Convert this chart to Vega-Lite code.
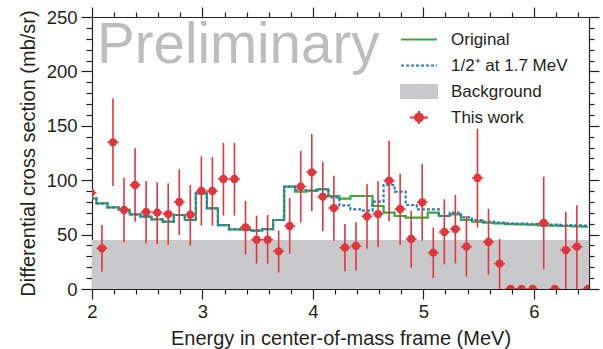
{
  "$schema": "https://vega.github.io/schema/vega-lite/v6.json",
  "width": 497,
  "height": 272,
  "autosize": {"type": "none"},
  "padding": {"left": 92, "top": 17, "right": 14, "bottom": 60},
  "background": "white",
  "config": {
    "view": {"stroke": null},
    "font": "Liberation Sans",
    "axis": {
      "grid": false,
      "domainColor": "#231f20",
      "domainWidth": 1.2,
      "tickColor": "#231f20",
      "tickWidth": 1.2,
      "labelColor": "#231f20",
      "titleColor": "#231f20",
      "labelFont": "Liberation Sans",
      "titleFont": "Liberation Sans",
      "labelFontSize": 18.5,
      "titleFontSize": 20,
      "titleFontWeight": "normal",
      "labelFlush": false,
      "labelOverlap": false,
      "zindex": 1
    }
  },
  "datasets": {
    "pts": [
      {"x": 1.99, "y": 88.5, "lo": 88.5, "hi": 88.5, "orig": 83.3, "alt": 83.3},
      {"x": 2.09, "y": 37.4, "lo": 15.9, "hi": 58.8, "orig": 78.7, "alt": 78.7},
      {"x": 2.19, "y": 134.8, "lo": 94.7, "hi": 175.2, "orig": 75.0, "alt": 75.0},
      {"x": 2.29, "y": 72.6, "lo": 42.9, "hi": 102.3, "orig": 73.0, "alt": 73.0},
      {"x": 2.39, "y": 95.6, "lo": 61.9, "hi": 129.3, "orig": 68.6, "alt": 68.6},
      {"x": 2.49, "y": 70.8, "lo": 42.0, "hi": 99.3, "orig": 66.5, "alt": 66.5},
      {"x": 2.59, "y": 70.2, "lo": 41.4, "hi": 98.0, "orig": 64.0, "alt": 64.0},
      {"x": 2.69, "y": 68.9, "lo": 40.7, "hi": 97.1, "orig": 61.9, "alt": 61.9},
      {"x": 2.79, "y": 80.0, "lo": 49.6, "hi": 110.0, "orig": 68.0, "alt": 68.0},
      {"x": 2.89, "y": 68.3, "lo": 40.1, "hi": 95.6, "orig": 63.4, "alt": 63.4},
      {"x": 2.99, "y": 90.1, "lo": 58.2, "hi": 121.9, "orig": 87.9, "alt": 87.9},
      {"x": 3.09, "y": 90.1, "lo": 58.2, "hi": 121.3, "orig": 74.1, "alt": 74.1},
      {"x": 3.19, "y": 101.1, "lo": 67.4, "hi": 134.2, "orig": 58.8, "alt": 58.8},
      {"x": 3.29, "y": 101.1, "lo": 67.4, "hi": 134.2, "orig": 54.8, "alt": 54.8},
      {"x": 3.39, "y": 56.7, "lo": 31.6, "hi": 81.2, "orig": 54.5, "alt": 54.5},
      {"x": 3.49, "y": 45.3, "lo": 23.3, "hi": 67.4, "orig": 53.6, "alt": 53.6},
      {"x": 3.59, "y": 45.3, "lo": 23.3, "hi": 68.0, "orig": 55.1, "alt": 55.1},
      {"x": 3.69, "y": 34.6, "lo": 15.0, "hi": 53.9, "orig": 63.4, "alt": 63.4},
      {"x": 3.79, "y": 57.9, "lo": 32.5, "hi": 83.6, "orig": 94.1, "alt": 94.1},
      {"x": 3.89, "y": 94.1, "lo": 61.0, "hi": 126.8, "orig": 89.5, "alt": 91.0},
      {"x": 3.99, "y": 107.2, "lo": 71.7, "hi": 142.5, "orig": 90.1, "alt": 91.0},
      {"x": 4.09, "y": 84.9, "lo": 53.0, "hi": 116.7, "orig": 91.6, "alt": 91.9},
      {"x": 4.19, "y": 74.4, "lo": 44.4, "hi": 104.2, "orig": 85.5, "alt": 84.3},
      {"x": 4.29, "y": 38.0, "lo": 16.2, "hi": 59.7, "orig": 83.0, "alt": 76.9},
      {"x": 4.39, "y": 39.5, "lo": 16.9, "hi": 61.3, "orig": 85.5, "alt": 73.2},
      {"x": 4.49, "y": 66.8, "lo": 37.1, "hi": 96.2, "orig": 85.5, "alt": 72.0},
      {"x": 4.59, "y": 68.9, "lo": 38.6, "hi": 99.0, "orig": 76.3, "alt": 80.3},
      {"x": 4.69, "y": 99.6, "lo": 62.2, "hi": 136.3, "orig": 70.2, "alt": 95.6},
      {"x": 4.79, "y": 73.5, "lo": 40.7, "hi": 106.0, "orig": 67.1, "alt": 89.5},
      {"x": 4.89, "y": 46.0, "lo": 19.6, "hi": 72.0, "orig": 65.6, "alt": 77.2},
      {"x": 4.99, "y": 79.7, "lo": 44.4, "hi": 114.9, "orig": 65.6, "alt": 73.2},
      {"x": 5.09, "y": 33.4, "lo": 10.1, "hi": 56.4, "orig": 70.2, "alt": 73.2},
      {"x": 5.19, "y": 52.4, "lo": 22.7, "hi": 82.4, "orig": 67.1, "alt": 67.1},
      {"x": 5.29, "y": 55.1, "lo": 23.6, "hi": 86.4, "orig": 68.6, "alt": 70.2},
      {"x": 5.39, "y": 38.9, "lo": 11.3, "hi": 67.1, "orig": 63.4, "alt": 65.9},
      {"x": 5.49, "y": 102.0, "lo": 56.4, "hi": 147.4, "orig": 61.9, "alt": 63.4},
      {"x": 5.59, "y": 43.2, "lo": 13.2, "hi": 73.8, "orig": 61.0, "alt": 61.9},
      {"x": 5.69, "y": 23.3, "lo": -5, "hi": 46.0, "orig": 60.4, "alt": 61.0},
      {"x": 5.79, "y": 0, "lo": 0, "hi": 0, "orig": 59.7, "alt": 60.4},
      {"x": 5.89, "y": 0, "lo": 0, "hi": 0, "orig": 59.4, "alt": 60.0},
      {"x": 5.99, "y": 0, "lo": 0, "hi": 0, "orig": 59.1, "alt": 59.7},
      {"x": 6.09, "y": 60.7, "lo": 18.1, "hi": 103.2, "orig": 58.5, "alt": 59.4},
      {"x": 6.19, "y": 0, "lo": 0, "hi": 0, "orig": 58.2, "alt": 59.1},
      {"x": 6.29, "y": 35.8, "lo": -5, "hi": 70.8, "orig": 57.9, "alt": 58.8},
      {"x": 6.39, "y": 38.9, "lo": -5, "hi": 76.9, "orig": 57.6, "alt": 58.5},
      {"x": 6.49, "y": 0, "lo": 0, "hi": 0, "orig": 57.3, "alt": 58.2}
    ],
    "bg": [{"x0": 2, "x1": 6.5, "b": 45}],
    "note": [{"label": "Preliminary"}]
  },
  "layer": [
    {
      "data": {"name": "bg"},
      "mark": {"type": "rect", "clip": true},
      "encoding": {
        "x": {
          "field": "x0", "type": "quantitative",
          "scale": {"domain": [2, 6.5], "nice": false, "zero": false},
          "axis": {
            "orient": "top", "title": null, "labels": false, "labelOverlap": false, "tickCount": 200,
            "values": [2, 2.2, 2.4, 2.6, 2.8, 3, 3.2, 3.4, 3.6, 3.8, 4, 4.2, 4.4, 4.6, 4.8, 5, 5.2, 5.4, 5.6, 5.8, 6, 6.2, 6.4],
            "tickSize": {"condition": {"test": "abs(datum.value - round(datum.value)) < 0.001", "value": 10}, "value": 5}
          }
        },
        "x2": {"field": "x1"},
        "y": {
          "field": "b", "type": "quantitative",
          "scale": {"domain": [0, 250], "nice": false},
          "axis": {
            "orient": "right", "title": null, "labels": false, "labelOverlap": false, "tickCount": 200,
            "values": [0, 10, 20, 30, 40, 50, 60, 70, 80, 90, 100, 110, 120, 130, 140, 150, 160, 170, 180, 190, 200, 210, 220, 230, 240, 250],
            "tickSize": {"condition": {"test": "datum.value % 50 === 0", "value": 10}, "value": 5}
          }
        },
        "y2": {"datum": 0},
        "color": {
          "datum": "Background", "type": "nominal",
          "scale": {
            "domain": ["Original", "1/2⁺ at 1.7 MeV", "Background", "This work"],
            "range": ["#3aa935", "#2a7ab9", "#c9c9cb", "#e0363c"]
          },
          "legend": {
            "orient": "none", "legendX": 328, "legendY": 13.5,
            "title": null,
            "symbolSize": 256,
            "symbolStrokeWidth": 2,
            "labelFont": "Liberation Sans",
            "labelFontSize": 17,
            "labelColor": "#231f20",
            "labelOffset": 13,
            "rowPadding": 0,
            "encode": {
              "symbols": {
                "update": {
                  "shape": {"signal": "datum.value === 'Background' ? 'M-3.5,-1.03M-3.5,1.03M-3.5,-0.8H1V0.8H-3.5Z' : datum.value === 'This work' ? 'M-3.5,-1.03M-3.5,1.03M-2.375,0H-0.125M-1.25,-0.8V0.8M-0.75,0A0.5,0.5,0,1,1,-1.75,0A0.5,0.5,0,1,1,-0.75,0Z' : 'M-3.5,-1.03M-3.5,1.03M-3.5,0H1'"},
                  "fill": {"scale": "color", "field": "value"},
                  "stroke": {"scale": "color", "field": "value"},
                  "strokeDash": {"signal": "(datum.value === 'Original' || datum.value === 'Background' || datum.value === 'This work') ? [] : [3, 2]"},
                  "opacity": {"value": 1},
                  "fillOpacity": {"value": 1},
                  "strokeOpacity": {"value": 1}
                }
              }
            }
          }
        }
      }
    },
    {
      "data": {"name": "pts"},
      "layer": [
        {
          "mark": {"type": "line", "interpolate": "step", "strokeWidth": 2.2, "clip": true},
          "encoding": {
            "x": {
              "field": "x", "type": "quantitative",
              "scale": {"domain": [2, 6.5], "nice": false, "zero": false},
              "axis": {
                "orient": "bottom",
                "title": "Energy in center-of-mass frame (MeV)",
                "values": [2, 2.2, 2.4, 2.6, 2.8, 3, 3.2, 3.4, 3.6, 3.8, 4, 4.2, 4.4, 4.6, 4.8, 5, 5.2, 5.4, 5.6, 5.8, 6, 6.2, 6.4],
                "tickCount": 200,
                "labelExpr": "abs(datum.value - round(datum.value)) < 0.001 ? format(datum.value, 'd') : ''",
                "labelOverlap": false,
                "tickSize": {"condition": {"test": "abs(datum.value - round(datum.value)) < 0.001", "value": 10}, "value": 5},
                "labelPadding": 3,
                "titlePadding": 8
              }
            },
            "y": {
              "field": "orig", "type": "quantitative",
              "scale": {"domain": [0, 250], "nice": false},
              "axis": {
                "orient": "left",
                "title": "Differential cross section (mb/sr)",
                "values": [0, 10, 20, 30, 40, 50, 60, 70, 80, 90, 100, 110, 120, 130, 140, 150, 160, 170, 180, 190, 200, 210, 220, 230, 240, 250],
                "tickCount": 200,
                "labelExpr": "datum.value % 50 === 0 ? datum.label : ''",
                "labelOverlap": false,
                "tickSize": {"condition": {"test": "datum.value % 50 === 0", "value": 11}, "value": 6},
                "labelPadding": 4,
                "titlePadding": 8
              }
            },
            "color": {"datum": "Original", "type": "nominal"}
          }
        },
        {
          "mark": {"type": "line", "interpolate": "step", "strokeWidth": 2.2, "strokeDash": [3, 2], "clip": true},
          "encoding": {
            "x": {"field": "x", "type": "quantitative"},
            "y": {"field": "alt", "type": "quantitative"},
            "color": {"datum": "1/2⁺ at 1.7 MeV", "type": "nominal"}
          }
        },
        {
          "mark": {"type": "rule", "strokeWidth": 1.6, "clip": true},
          "encoding": {
            "x": {"field": "x", "type": "quantitative"},
            "y": {"field": "lo", "type": "quantitative"},
            "y2": {"field": "hi"},
            "color": {"datum": "This work", "type": "nominal"}
          }
        },
        {
          "mark": {
            "type": "point",
            "shape": "M-1,0H1M0.62,0A0.62,0.62,0,1,1,-0.62,0A0.62,0.62,0,1,1,0.62,0Z",
            "filled": true,
            "size": 121,
            "stroke": "#e0363c",
            "strokeWidth": 1.5,
            "opacity": 1,
            "clip": true
          },
          "encoding": {
            "x": {"field": "x", "type": "quantitative"},
            "y": {"field": "y", "type": "quantitative"},
            "color": {"datum": "This work", "type": "nominal"}
          }
        },
        {
          "data": {"name": "note"},
          "mark": {"type": "text", "align": "left", "baseline": "alphabetic", "fontSize": 56.5, "font": "Liberation Sans", "color": "#bdbdbd"},
          "encoding": {
            "x": {"datum": 2.045, "type": "quantitative"},
            "y": {"datum": 208, "type": "quantitative"},
            "text": {"field": "label", "type": "nominal"}
          }
        }
      ]
    }
  ],
  "resolve": {"axis": {"x": "independent", "y": "independent"}}
}
